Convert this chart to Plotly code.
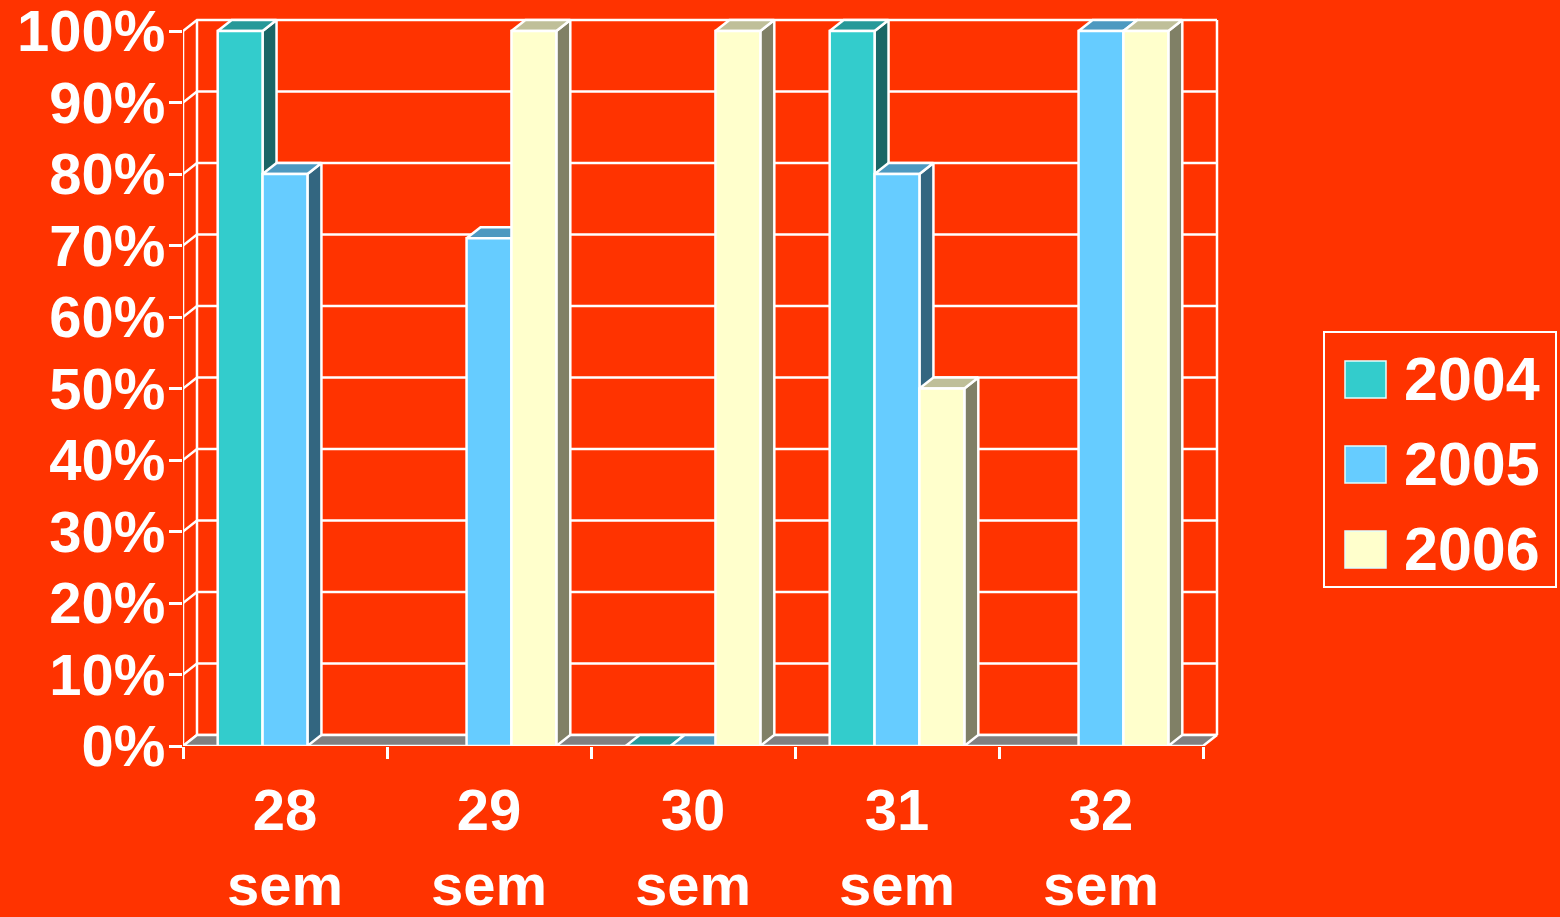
import plotly.graph_objects as go

# ---------------- data ----------------
categories = ["28<br>sem", "29<br>sem", "30<br>sem", "31<br>sem", "32<br>sem"]
series_names = ["2004", "2005", "2006"]
values_2004 = [100, None, 0, 100, None]
values_2005 = [80, 71, 0, 80, 100]
values_2006 = [None, 100, 100, 50, 100]
y_tick_values = [0, 10, 20, 30, 40, 50, 60, 70, 80, 90, 100]
y_tick_labels = ["0%", "10%", "20%", "30%", "40%", "50%", "60%", "70%", "80%", "90%", "100%"]

series_values = [values_2004, values_2005, values_2006]

# ---------------- style ----------------
BG = "#FF3300"
WHITE = "#FFFFFF"
FONT = "Liberation Sans, Arial, sans-serif"
front_colors = ["#33CCCC", "#66CCFF", "#FFFFCC"]
side_colors = ["#1A6666", "#336680", "#808066"]
top_colors = ["#269999", "#4D99C0", "#BFBF99"]
FLOOR = "#808080"
LW = 2.5

BAR_W = 0.22      # bar width in category units
DX = 0.0686       # depth offset (x, category units)
DY = 1.54         # depth offset (y, percent units)

W, H = 1560, 917
ML, MR, MT, MB = 183, 337, 13, 171
PX_PER_CAT = 204.0
PX_PER_PCT = 7.15
plot_w = W - ML - MR
plot_h = H - MT - MB
x_range = [-0.5, -0.5 + plot_w / PX_PER_CAT]
y_range = [0, plot_h / PX_PER_PCT]

n_cat = len(categories)
x_lo, x_hi = -0.5, n_cat - 0.5
y_max = max(y_tick_values)

fig = go.Figure()


def poly(xs, ys, fill, width=LW):
    fig.add_trace(go.Scatter(
        x=xs, y=ys, mode="lines", fill="toself", fillcolor=fill,
        line=dict(color=WHITE, width=width), hoverinfo="skip",
        showlegend=False, cliponaxis=False))


def lines(xs, ys, width=LW):
    fig.add_trace(go.Scatter(
        x=xs, y=ys, mode="lines", line=dict(color=WHITE, width=width),
        hoverinfo="skip", showlegend=False, cliponaxis=False))


# back wall grid lines and side-wall diagonals
gx, gy = [], []
for v in y_tick_values:
    gx += [x_lo, x_lo + DX, x_hi + DX, None]
    gy += [v, v + DY, v + DY, None]
# back wall verticals
gx += [x_lo + DX, x_lo + DX, None, x_hi + DX, x_hi + DX, None]
gy += [DY, y_max + DY, None, DY, y_max + DY, None]
lines(gx, gy)

# floor
poly([x_lo, x_hi, x_hi + DX, x_lo + DX, x_lo],
     [0, 0, DY, DY, 0], FLOOR)

# front vertical axis line
lines([x_lo, x_lo], [0, y_max])

# bars (left to right for correct overlap)
n_ser = len(series_values)
for c in range(n_cat):
    for s in range(n_ser):
        v = series_values[s][c]
        if v is None:
            continue
        x0 = c - n_ser * BAR_W / 2 + s * BAR_W
        x1 = x0 + BAR_W
        # side face
        poly([x1, x1 + DX, x1 + DX, x1, x1],
             [0, DY, v + DY, v, 0], side_colors[s])
        # top face
        poly([x0, x1, x1 + DX, x0 + DX, x0],
             [v, v, v + DY, v + DY, v], top_colors[s])
        # front face
        poly([x0, x1, x1, x0, x0],
             [0, 0, v, v, 0], front_colors[s])

# ---------------- legend (drawn) ----------------
def px_to_paper_x(px):
    return (px - ML) / plot_w


def px_to_paper_y(py):
    return (H - MB - py) / plot_h


shapes = []
annotations = []
shapes.append(dict(type="rect", xref="paper", yref="paper",
                   x0=px_to_paper_x(1324), x1=px_to_paper_x(1556),
                   y0=px_to_paper_y(587), y1=px_to_paper_y(332),
                   line=dict(color=WHITE, width=2), fillcolor="rgba(0,0,0,0)"))
for i, name in enumerate(series_names):
    top = 361 + 85 * i
    shapes.append(dict(type="rect", xref="paper", yref="paper",
                       x0=px_to_paper_x(1345), x1=px_to_paper_x(1386),
                       y0=px_to_paper_y(top + 37), y1=px_to_paper_y(top),
                       line=dict(color="#E0FFFF", width=1.5),
                       fillcolor=front_colors[i]))
    annotations.append(dict(xref="paper", yref="paper",
                            x=px_to_paper_x(1402), y=px_to_paper_y(top + 18),
                            xanchor="left", yanchor="middle", showarrow=False,
                            text=name,
                            font=dict(family=FONT, size=61, color=WHITE, weight="bold")))

fig.update_layout(
    width=W, height=H, autosize=False,
    margin=dict(l=ML, r=MR, t=MT, b=MB, pad=0),
    paper_bgcolor=BG, plot_bgcolor=BG,
    showlegend=False,
    shapes=shapes, annotations=annotations,
    xaxis=dict(range=x_range, showgrid=False, zeroline=False, showline=False,
               tickmode="array", tickvals=list(range(n_cat)), ticktext=categories,
               ticks="", ticklabelstandoff=25, ticklabeloverflow="allow",
               tickfont=dict(family=FONT, size=58, color=WHITE, weight="bold"),
               minor=dict(tickmode="array", tickvals=[c - 0.5 for c in range(n_cat + 1)],
                          ticks="outside", ticklen=12, tickwidth=LW, tickcolor=WHITE,
                          showgrid=False),
               automargin=False, fixedrange=True),
    yaxis=dict(range=y_range, showgrid=False, zeroline=False, showline=False,
               tickmode="array", tickvals=y_tick_values, ticktext=y_tick_labels,
               ticks="outside", ticklen=13, tickwidth=LW, tickcolor=WHITE,
               ticklabelstandoff=-8, ticklabeloverflow="allow",
               tickfont=dict(family=FONT, size=58, color=WHITE, weight="bold"),
               automargin=False, fixedrange=True),
)

fig.write_html("out.html", config={"displayModeBar": False},
               post_script="document.body.style.margin='0';document.body.style.overflow='hidden';")
